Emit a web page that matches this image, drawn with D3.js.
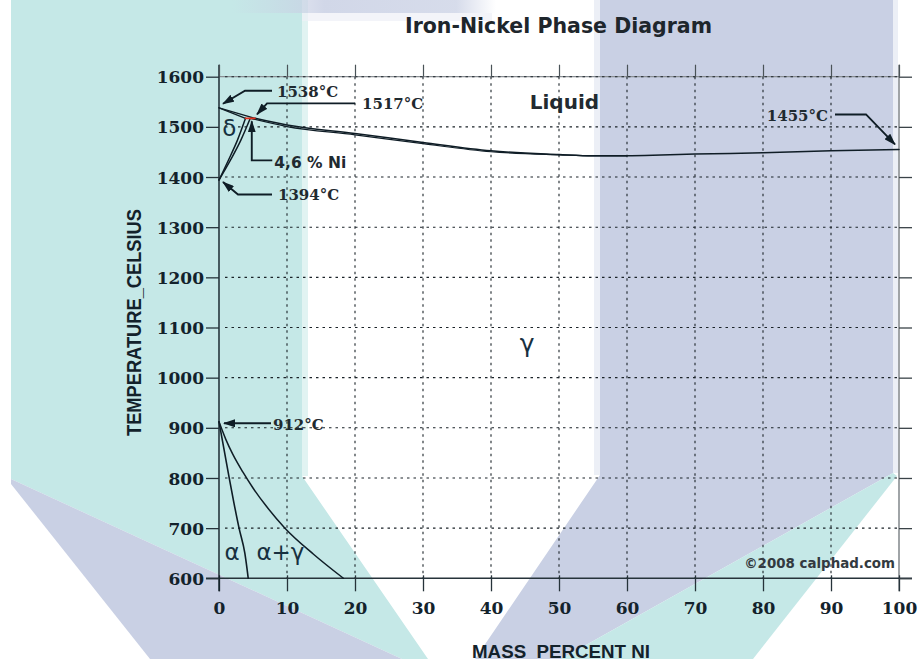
<!DOCTYPE html>
<html>
<head>
<meta charset="utf-8">
<title>Iron-Nickel Phase Diagram</title>
<script src="https://cdn.jsdelivr.net/npm/d3@7"></script>
<style>
  html, body { margin: 0; padding: 0; background: #ffffff; }
  svg { display: block; }
</style>
</head>
<body>
<svg id="chart" width="920" height="659"></svg>
<script>
// Axis ticks: composition in mass % Ni, temperature in °C
const xTickValues = [0, 10, 20, 30, 40, 50, 60, 70, 80, 90, 100];
const yTickValues = [600, 700, 800, 900, 1000, 1100, 1200, 1300, 1400, 1500, 1600];

// Phase boundaries, each point is [mass % Ni, temperature °C]
const deltaLiquidus = [[0, 1538], [5.3, 1517]];
const deltaSolidus = [[0, 1538], [3.9, 1517]];
const peritecticLine = [[3.9, 1517], [5.3, 1517]];
const deltaSolvus = [[0, 1394], [1.4, 1434], [2.7, 1473], [3.9, 1517]];
const gammaDeltaBoundary = [[0, 1394], [1.7, 1434], [3.2, 1473], [4.6, 1517]];
const liquidus = [[5.3, 1517], [10, 1503.5], [20, 1487], [30, 1469], [40, 1452.3], [50, 1445],
                  [55, 1442.4], [60, 1442.3], [65, 1443.7], [70, 1445.7], [80, 1448.3], [90, 1452.3], [100, 1455]];
const solidus = [[4.6, 1517], [10, 1500.6], [20, 1484.2], [30, 1466.4], [40, 1450.4], [50, 1444.2],
                 [55, 1442.2], [60, 1442.3]];
const alphaSolvus = [[0, 912], [0.7, 860], [1.5, 800], [2.2, 750], [2.95, 700], [3.8, 650], [4.3, 600]];
const gammaSolvus = [[0, 912], [1, 877], [2, 848], [3.5, 812], [5, 780], [7, 743], [9.7, 700], [13.9, 648], [18.3, 600]];

// Call-out labels and the diagram points they refer to
const calloutLabels = ["1538°C", "1517°C", "4,6 % Ni", "1394°C", "912°C", "1455°C"];
const calloutPoints = [[0, 1538], [5.3, 1517], [4.6, 1517], [0, 1394], [0, 912], [100, 1455]];

// Phase field names and their [mass % Ni, °C] anchors
const phaseNames = ["Liquid", "δ", "γ", "α", "α+γ"];
const phaseAnchors = [[45.7, 1536], [1.5, 1482], [45.3, 1051], [0.8, 636], [5.5, 636]];

const titleText = "Iron-Nickel Phase Diagram";
const xTitle = "MASS_PERCENT NI";
const yTitle = "TEMPERATURE_CELSIUS";
const creditText = "©2008 calphad.com";

const svg = d3.select("#chart");

const x = d3.scaleLinear().domain([0, 100]).range([219, 899]);
const y = d3.scaleLinear().domain([600, 1600]).range([578.3, 76.7]);

const ink = "#0f1d26";
const teal = "#c5e8e7";
const lavender = "#c9d0e4";

// ---- decorative backdrop bands ----
const bg = svg.append("g").attr("class", "backdrop");
const defs = svg.append("defs");

const topFade = defs.append("linearGradient").attr("id", "topFade").attr("x1", "0").attr("x2", "1");
[[0, 0], [0.35, 0.85], [0.85, 0.75], [1, 0]].forEach(([o, a]) =>
  topFade.append("stop").attr("offset", o).attr("stop-color", lavender).attr("stop-opacity", a));

const bands = [
  { fill: teal, pts: [[11, 0], [302, 0], [302, 476], [428, 659], [402, 659], [11, 479]] },
  { fill: lavender, pts: [[11, 479], [402, 659], [150, 659], [11, 484]] },
  { fill: lavender, pts: [[600, 0], [893, 0], [893, 473], [561, 659], [475, 659], [600, 475]] },
  { fill: teal, pts: [[893, 473], [897, 476], [753, 659], [561, 659]] }
];
bg.selectAll("path.band").data(bands).join("path")
  .attr("class", "band")
  .attr("d", b => "M" + b.pts.map(p => p.join(",")).join("L") + "Z")
  .attr("fill", b => b.fill);

// soft edges of the bands
bg.append("rect").attr("x", 302).attr("y", 0).attr("width", 6).attr("height", 476).attr("fill", "#e1f3f2");
bg.append("rect").attr("x", 594).attr("y", 0).attr("width", 6).attr("height", 475).attr("fill", "#eceff6");
bg.append("rect").attr("x", 893).attr("y", 0).attr("width", 5).attr("height", 473).attr("fill", "#eceff6");
bg.append("rect").attr("x", 232).attr("y", 0).attr("width", 264).attr("height", 13).attr("fill", "url(#topFade)");
bg.append("rect").attr("x", 302).attr("y", 13).attr("width", 190).attr("height", 8).attr("fill", "#eef0f7").attr("opacity", 0.7);

// ---- arrow head marker ----
defs.append("marker")
  .attr("id", "arrowHead")
  .attr("viewBox", "0 0 12 8")
  .attr("refX", 11).attr("refY", 4)
  .attr("markerWidth", 12).attr("markerHeight", 8)
  .attr("markerUnits", "userSpaceOnUse")
  .attr("orient", "auto")
  .append("path").attr("d", "M0,0 L12,4 L0,8 Z").attr("fill", ink);

// ---- frame, ticks and grid ----
const frame = svg.append("g");
const x0 = x(0), x1 = x(100), yTop = y(1600), yBot = y(600);

// top border (grey) and right border
frame.append("line").attr("x1", x0).attr("x2", x1).attr("y1", yTop).attr("y2", yTop)
  .attr("stroke", "#8a8f94").attr("stroke-width", 1.2);
frame.append("line").attr("x1", x1).attr("x2", x1).attr("y1", yTop - 12).attr("y2", yBot + 13)
  .attr("stroke", "#6d7378").attr("stroke-width", 1.3);

// dotted grid
const grid = svg.append("g").attr("stroke", "#1b2328").attr("stroke-width", 1.1)
  .attr("stroke-dasharray", "2.5,4");
grid.selectAll("line.v").data(xTickValues.filter(v => v > 0 && v < 100)).join("line")
  .attr("class", "v")
  .attr("x1", d => x(d)).attr("x2", d => x(d))
  .attr("y1", yTop).attr("y2", yBot);
grid.selectAll("line.h").data(yTickValues.filter(v => v > 600)).join("line")
  .attr("class", "h")
  .attr("x1", x0 + 6).attr("x2", x1)
  .attr("y1", d => y(d)).attr("y2", d => y(d));

const tickFont = "'DejaVu Serif', 'Liberation Serif', serif";

// bottom axis with labels
const axB = svg.append("g").attr("transform", `translate(0,${yBot})`)
  .call(d3.axisBottom(x).tickValues(xTickValues).tickSize(13).tickSizeOuter(0).tickPadding(11)
        .tickFormat(d3.format("d")));
axB.select(".domain").attr("stroke", "#26333a").attr("stroke-width", 1.4)
  .attr("d", `M${x0 - 13},0H${x1 + 13}`);
axB.selectAll(".tick line").attr("stroke", "#26333a").attr("stroke-width", 1.3).attr("y1", -3);
axB.selectAll(".tick text").attr("font-family", tickFont).attr("font-weight", "bold")
  .attr("font-size", 17).attr("fill", "#13222b");

// left axis with labels
const axL = svg.append("g").attr("transform", `translate(${x0},0)`)
  .call(d3.axisLeft(y).tickValues(yTickValues).tickSize(13).tickSizeOuter(0).tickPadding(2)
        .tickFormat(d3.format("d")));
axL.select(".domain").attr("stroke", ink).attr("stroke-width", 1.4)
  .attr("d", `M0,${yTop - 12}V${yBot + 13}`);
axL.selectAll(".tick line").attr("stroke", "#26333a").attr("stroke-width", 1.3);
axL.selectAll(".tick text").attr("font-family", tickFont).attr("font-weight", "bold")
  .attr("font-size", 17).attr("fill", "#13222b").attr("dy", "0.36em");

// top axis ticks
const axT = svg.append("g").attr("transform", `translate(0,${yTop})`)
  .call(d3.axisTop(x).tickValues(xTickValues).tickSize(12).tickSizeOuter(0).tickFormat(""));
axT.select(".domain").remove();
axT.selectAll(".tick line").attr("stroke", "#4a5358").attr("stroke-width", 1.2);

// right axis ticks
const axR = svg.append("g").attr("transform", `translate(${x1},0)`)
  .call(d3.axisRight(y).tickValues(yTickValues).tickSize(13).tickSizeOuter(0).tickFormat(""));
axR.select(".domain").remove();
axR.selectAll(".tick line").attr("stroke", "#3a4348").attr("stroke-width", 1.3);

// ---- phase boundaries ----
const line = d3.line().x(d => x(d[0])).y(d => y(d[1])).curve(d3.curveMonotoneX);
const curves = svg.append("g").attr("fill", "none").attr("stroke-linecap", "round");

[
  { pts: deltaLiquidus, w: 1.4 },
  { pts: deltaSolidus, w: 1.3 },
  { pts: deltaSolvus, w: 1.5 },
  { pts: gammaDeltaBoundary, w: 1.5 },
  { pts: liquidus, w: 1.5 },
  { pts: solidus, w: 1.2 },
  { pts: alphaSolvus, w: 1.6 },
  { pts: gammaSolvus, w: 1.5 }
].forEach(c => curves.append("path").attr("d", line(c.pts)).attr("stroke", ink).attr("stroke-width", c.w));

curves.append("path").attr("d", line(peritecticLine)).attr("stroke", "#e0301e").attr("stroke-width", 1.6);

// ---- call-outs: leader offsets (px) from the point, text placement ----
const leaders = [
  { tip: [4, -4], path: [[26, -17], [53, -17]], text: [58, -16], anchor: "start", sans: false },
  { tip: [2, -4], path: [[12, -15], [100, -15]], text: [107, -15], anchor: "start", sans: false },
  { tip: [1.5, 3], path: [[1.5, 42], [22, 42]], text: [24, 44], anchor: "start", sans: true },
  { tip: [4, 2], path: [[19, 14.5], [53, 14.5]], text: [59, 15], anchor: "start", sans: false },
  { tip: [5, 1.5], path: [[52, 1.5]], text: [54, 2.5], anchor: "start", sans: false },
  { tip: [-4, -5], path: [[-33, -35], [-64, -35]], text: [-71, -34], anchor: "end", sans: false }
];

const callouts = svg.append("g");
calloutPoints.forEach((p, i) => {
  const L = leaders[i];
  const px = x(p[0]), py = y(p[1]);
  const pts = [...L.path].reverse().map(o => [px + o[0], py + o[1]]);
  pts.push([px + L.tip[0], py + L.tip[1]]);
  callouts.append("path")
    .attr("d", "M" + pts.map(q => q.join(",")).join("L"))
    .attr("fill", "none").attr("stroke", ink).attr("stroke-width", 1.9)
    .attr("marker-end", "url(#arrowHead)");
  callouts.append("text")
    .attr("x", px + L.text[0]).attr("y", py + L.text[1])
    .attr("dy", "0.35em")
    .attr("text-anchor", L.anchor)
    .attr("font-family", L.sans ? "'DejaVu Sans', Verdana, sans-serif" : tickFont)
    .attr("font-weight", "bold")
    .attr("font-size", L.sans ? 15.5 : 15)
    .attr("fill", "#1f2a30")
    .text(calloutLabels[i]);
});

// ---- phase field names ----
const phaseStyle = [
  { size: 20, weight: "bold", anchor: "start", color: "#222a30" },
  { size: 23, weight: "normal", anchor: "middle", color: "#173040" },
  { size: 25, weight: "normal", anchor: "middle", color: "#173040" },
  { size: 23, weight: "normal", anchor: "start", color: "#173040" },
  { size: 23, weight: "normal", anchor: "start", color: "#173040" }
];
svg.append("g").selectAll("text").data(phaseNames).join("text")
  .attr("x", (d, i) => x(phaseAnchors[i][0]))
  .attr("y", (d, i) => y(phaseAnchors[i][1]))
  .attr("text-anchor", (d, i) => phaseStyle[i].anchor)
  .attr("font-family", "'DejaVu Sans', Verdana, sans-serif")
  .attr("font-size", (d, i) => phaseStyle[i].size)
  .attr("font-weight", (d, i) => phaseStyle[i].weight)
  .attr("fill", (d, i) => phaseStyle[i].color)
  .text(d => d);

// ---- titles and credit ----
svg.append("text")
  .attr("x", 558.5).attr("y", 33.3)
  .attr("text-anchor", "middle")
  .attr("font-family", "'DejaVu Sans', Verdana, sans-serif")
  .attr("font-weight", "bold").attr("font-size", 20.5)
  .attr("textLength", 307).attr("lengthAdjust", "spacingAndGlyphs")
  .attr("fill", "#1e262c")
  .text(titleText);

svg.append("text")
  .attr("x", 561).attr("y", 658)
  .attr("text-anchor", "middle")
  .attr("font-family", "'Liberation Sans', Arial, sans-serif")
  .attr("font-weight", "bold").attr("font-size", 19)
  .attr("textLength", 178).attr("lengthAdjust", "spacingAndGlyphs")
  .attr("fill", "#13222b")
  .text(xTitle);

svg.append("text")
  .attr("transform", "translate(140.5,322.5) rotate(-90)")
  .attr("text-anchor", "middle")
  .attr("font-family", "'Liberation Sans', Arial, sans-serif")
  .attr("font-weight", "bold").attr("font-size", 19.5)
  .attr("textLength", 227).attr("lengthAdjust", "spacingAndGlyphs")
  .attr("fill", "#13222b")
  .text(yTitle);

svg.append("text")
  .attr("x", 895).attr("y", 568)
  .attr("text-anchor", "end")
  .attr("font-family", "'DejaVu Sans', Verdana, sans-serif")
  .attr("font-weight", "bold").attr("font-size", 13.4)
  .attr("fill", "#333a40")
  .text(creditText);
</script>
</body>
</html>
